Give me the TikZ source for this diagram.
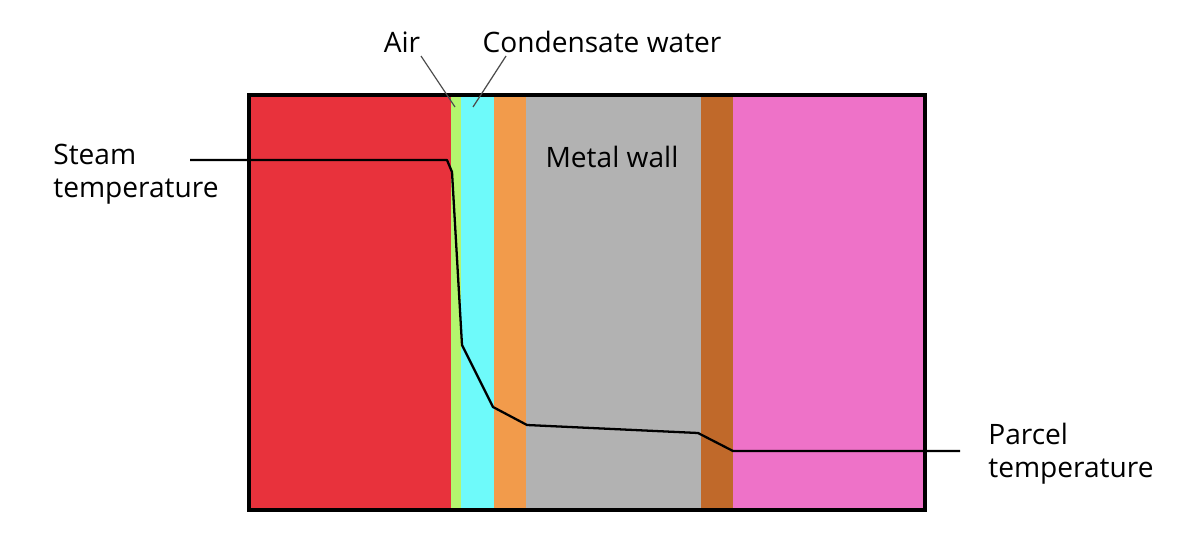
\documentclass[tikz,border=0pt]{standalone}
\usepackage{fontspec}
\setmainfont{Open Sans}
\begin{document}
\begin{tikzpicture}[x=0.02cm,y=-0.02cm]
\tikzstyle{every node}+=[inner sep=0pt, font=\fontsize{16}{19}\selectfont]
\tikzstyle{lbl}=[align=left, anchor=west]
\useasboundingbox (0,0) rectangle (1200,537);
\definecolor{cRed}{RGB}{232,50,60}
\definecolor{cAir}{RGB}{180,245,110}
\definecolor{cWater}{RGB}{110,250,250}
\definecolor{cOrange}{RGB}{242,155,75}
\definecolor{cGray}{RGB}{178,178,178}
\definecolor{cBrown}{RGB}{192,105,42}
\definecolor{cPink}{RGB}{238,114,200}
% layers
\fill [cRed] (247,94) rectangle (451,512);
\fill [cAir] (451,94) rectangle (461,512);
\fill [cWater] (461,94) rectangle (494,512);
\fill [cOrange] (494,94) rectangle (526,512);
\fill [cGray] (526,94) rectangle (701,512);
\fill [cBrown] (701,94) rectangle (733,512);
\fill [cPink] (733,94) rectangle (927,512);
\draw [black, line width=2.4pt] (249,95) rectangle (925,510);
% labels
\node (air) at (402,42) {Air};
\node (water) at (602,42) {Condensate water};
\node (wall) at (612,157) {Metal wall};
\node [lbl] (steam) at (53,174) {Steam\\temperature};
\node [lbl] (parcel) at (988,454) {Parcel\\temperature};
\coordinate (airpt) at (455,107);
\coordinate (waterpt) at (473,107);
\draw [black!70, line width=0.7pt] (421,56) -- (airpt);
\draw [black!70, line width=0.7pt] (506,56) -- (waterpt);
% temperature profile
\draw [black, line width=1.3pt, line join=round] (190,160) -- (447,160) -- (452,172)
  -- (462,345) -- (493,407) -- (527,425) -- (698,433) -- (733,451) -- (960,451);
\end{tikzpicture}
\end{document}
